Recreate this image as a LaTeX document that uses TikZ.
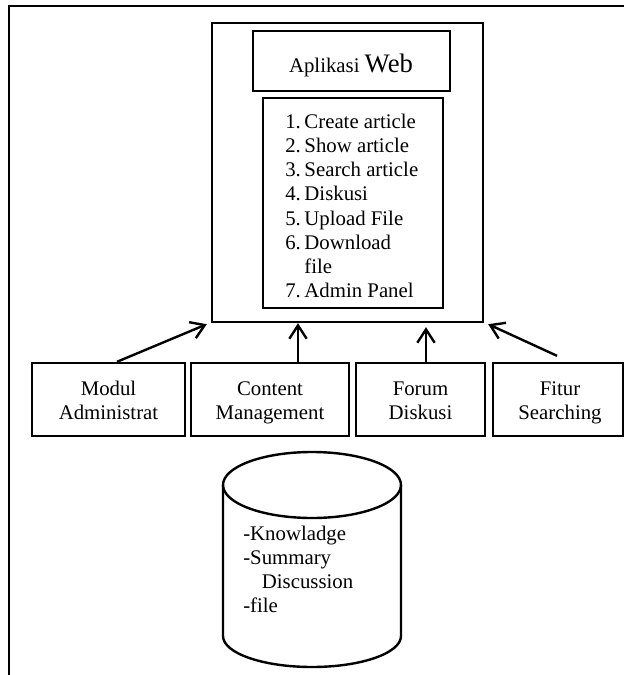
\documentclass[tikz,border=0pt]{standalone}
\usepackage{fontspec}
\setmainfont{Liberation Serif}
\usepackage{tikz}
\usetikzlibrary{calc,fit,arrows.meta}

\tikzset{
  kotak/.style={draw, line width=1.8pt, inner sep=0pt},
  teks/.style={anchor=base, inner sep=0pt},
  panah/.style={-{Straight Barb[length=10pt,width=13pt]}, line width=1.8pt},
}

\begin{document}
\begin{tikzpicture}[x=0.75pt,y=0.75pt,yscale=-1,xscale=1,font=\fontsize{15.6}{18.2}\selectfont]
        \useasboundingbox (0,0) rectangle (624,675);

        %Shape: frame, cut at the page edge
        \draw [line width=2.2pt] (9,675) -- (9,6) -- (624,6) ;

        %Shape: Rectangle (web application)
        \node [kotak, fit={(212,23) (483,322)}] (web) {};
        %Shape: Rectangle (title)
        \node [kotak, fit={(253,31) (450,91)}] (judul) {};
        %Shape: Rectangle (feature list)
        \node [kotak, fit={(263,98) (443,308)}] (daftar) {};

        % Text Node
        \node [teks] (tjudul) at (351,72) {Aplikasi {\fontsize{20}{24}\selectfont Web}};
        % Text Node
        \node [anchor=base west, inner sep=0pt] (menu) at (285,128)
          {\begin{tabular}[t]{@{}l@{\hspace{2.7pt}}l@{}}
            1. & Create article\\
            2. & Show article\\
            3. & Search article\\
            4. & Diskusi\\
            5. & Upload File\\
            6. & Download\\
               & file\\
            7. & Admin Panel
          \end{tabular}};

        %Shape: Rectangle (modules)
        \node [kotak, fit={(32,363) (185,436)}] (modul) {};
        \node [kotak, fit={(191,363) (349,436)}] (konten) {};
        \node [kotak, fit={(356,363) (485,436)}] (forum) {};
        \node [kotak, fit={(493,363) (623,436)}] (cari) {};

        % Text Node
        \node [teks] (tmodul) at (108.5,395) {\begin{tabular}[t]{@{}c@{}}Modul\\Administrat\end{tabular}};
        % Text Node
        \node [teks] (tkonten) at (270,395) {\begin{tabular}[t]{@{}c@{}}Content\\Management\end{tabular}};
        % Text Node
        \node [teks] (tforum) at (420.5,395) {\begin{tabular}[t]{@{}c@{}}Forum\\Diskusi\end{tabular}};
        % Text Node
        \node [teks] (tcari) at (560,395) {\begin{tabular}[t]{@{}c@{}}Fitur\\Searching\end{tabular}};

        %Straight Lines (arrows into the web box)
        \coordinate (a1) at ($(konten.north)+(28,0)$);
        \coordinate (a2) at ($(forum.north)+(5.5,0)$);
        \draw [panah] ($(modul.north)+(8.5,0)$) -- ($(web.south west)+(-4,1)$) ;
        \draw [panah] (a1) -- (a1 |- web.south) ;
        \draw [panah] (a2) -- ($(a2 |- web.south)+(0,4)$) ;
        \draw [panah] ($(cari.north)+(-1,-6)$) -- ($(web.south east)+(4,1)$) ;

        %Shape: Can (database)
        \draw [line width=1.8pt] (312,485) ellipse [x radius=89, y radius=33] ;
        \draw [line width=1.8pt] (223,485) -- (223,636)
          arc [start angle=180, end angle=0, x radius=89, y radius=31] -- (401,485) ;

        % Text Node
        \node [anchor=base west, inner sep=0pt] (isi) at (243,540)
          {\begin{tabular}[t]{@{}l@{}}
            -Knowladge\\
            -Summary\\
            \hspace{14pt}Discussion\\
            -file
          \end{tabular}};

\end{tikzpicture}
\end{document}
